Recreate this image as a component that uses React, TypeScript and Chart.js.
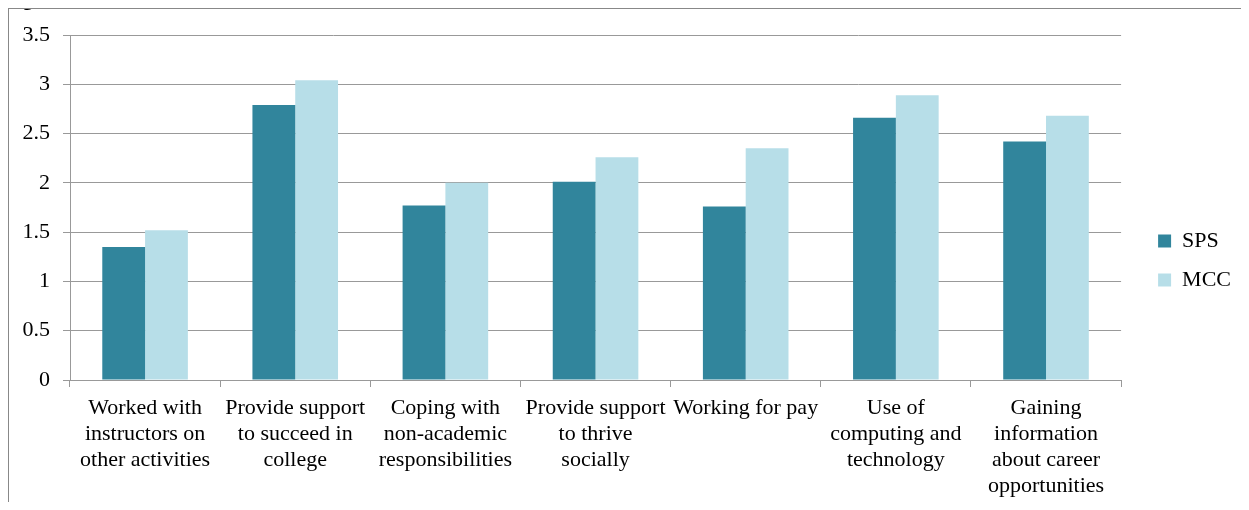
import React, { useEffect, useRef } from "react";
import { Chart, registerables } from "chart.js";

Chart.register(...registerables);

const categories: string[][] = [
  ["Worked with", "instructors on", "other activities"],
  ["Provide support", "to succeed in", "college"],
  ["Coping with", "non-academic", "responsibilities"],
  ["Provide support", "to thrive", "socially"],
  ["Working for pay"],
  ["Use of", "computing and", "technology"],
  ["Gaining", "information", "about career", "opportunities"],
];

const spsValues = [1.35, 2.79, 1.77, 2.01, 1.76, 2.66, 2.42];
const mccValues = [1.52, 3.04, 2.0, 2.26, 2.35, 2.89, 2.68];

const seriesNames = ["SPS", "MCC"];
const yTicks = { min: 0, max: 3.5, step: 0.5 };

const W = 1233;
const H = 494;
const FONT = "'Liberation Serif', 'Times New Roman', serif";
const GRID = "#999999";

const legendShift = {
  id: "legendShift",
  afterLayout(chart: any) {
    const lg = chart.legend;
    if (!lg) return;
    const dx = 20;
    const dy = -8;
    lg.left += dx;
    lg.right += dx;
    lg.top += dy;
    lg.bottom += dy;
  },
};

export default function App() {
  const ref = useRef<HTMLCanvasElement | null>(null);

  useEffect(() => {
    if (!ref.current) return;
    Chart.defaults.font.family = FONT;
    Chart.defaults.font.size = 22;
    Chart.defaults.color = "#000000";
    const chart = new Chart(ref.current, {
      type: "bar",
      data: {
        labels: categories,
        datasets: [
          {
            label: seriesNames[0],
            data: spsValues,
            backgroundColor: "#31859C",
            borderWidth: 0,
            categoryPercentage: 0.57,
            barPercentage: 1,
          },
          {
            label: seriesNames[1],
            data: mccValues,
            backgroundColor: "#B7DEE8",
            borderWidth: 0,
            categoryPercentage: 0.57,
            barPercentage: 1,
          },
        ],
      },
      options: {
        animation: false,
        responsive: false,
        devicePixelRatio: 1,
        layout: { padding: { top: 27, right: 20, left: 0, bottom: 0 } },
        plugins: {
          legend: {
            position: "right",
            labels: {
              boxWidth: 13,
              boxHeight: 13,
              padding: 17,
              font: { size: 22, family: FONT },
              color: "#000000",
            },
          },
          tooltip: { enabled: false },
        },
        scales: {
          x: {
            offset: true,
            grid: {
              display: true,
              offset: true,
              drawOnChartArea: false,
              drawTicks: true,
              tickLength: 7,
              color: GRID,
            },
            border: { color: GRID, width: 1 },
            ticks: {
              autoSkip: false,
              maxRotation: 0,
              minRotation: 0,
              padding: 8,
              font: { size: 22, family: FONT, lineHeight: "26px" },
              color: "#000000",
            },
            afterFit(scale: any) {
              scale.height = 122;
            },
          },
          y: {
            min: yTicks.min,
            max: yTicks.max,
            grid: {
              color: GRID,
              lineWidth: 1,
              tickLength: 7,
              drawTicks: true,
            },
            border: { color: GRID, width: 1 },
            ticks: {
              stepSize: yTicks.step,
              padding: 13,
              font: { size: 22, family: FONT },
              color: "#000000",
              callback: (v: any) => String(Number(v)),
            },
            afterFit(scale: any) {
              scale.width = 62;
            },
          },
        },
      },
      plugins: [legendShift],
    });
    return () => chart.destroy();
  }, []);

  return (
    <div style={{ position: "relative", width: W, height: H }}>
      <div
        style={{
          position: "absolute",
          left: -3,
          top: -20,
          font: `bold 20px ${FONT}`,
          lineHeight: "20px",
          whiteSpace: "nowrap",
          color: "#000",
        }}
      >
        Figure
      </div>
      <canvas ref={ref} width={W} height={H} style={{ display: "block", width: W, height: H }} />
      <div
        style={{
          position: "absolute",
          left: 0,
          top: 0,
          width: W,
          height: H + 8,
          borderLeft: "1px solid #888",
          borderTop: "1px solid #888",
          boxSizing: "border-box",
          pointerEvents: "none",
        }}
      />
    </div>
  );
}
